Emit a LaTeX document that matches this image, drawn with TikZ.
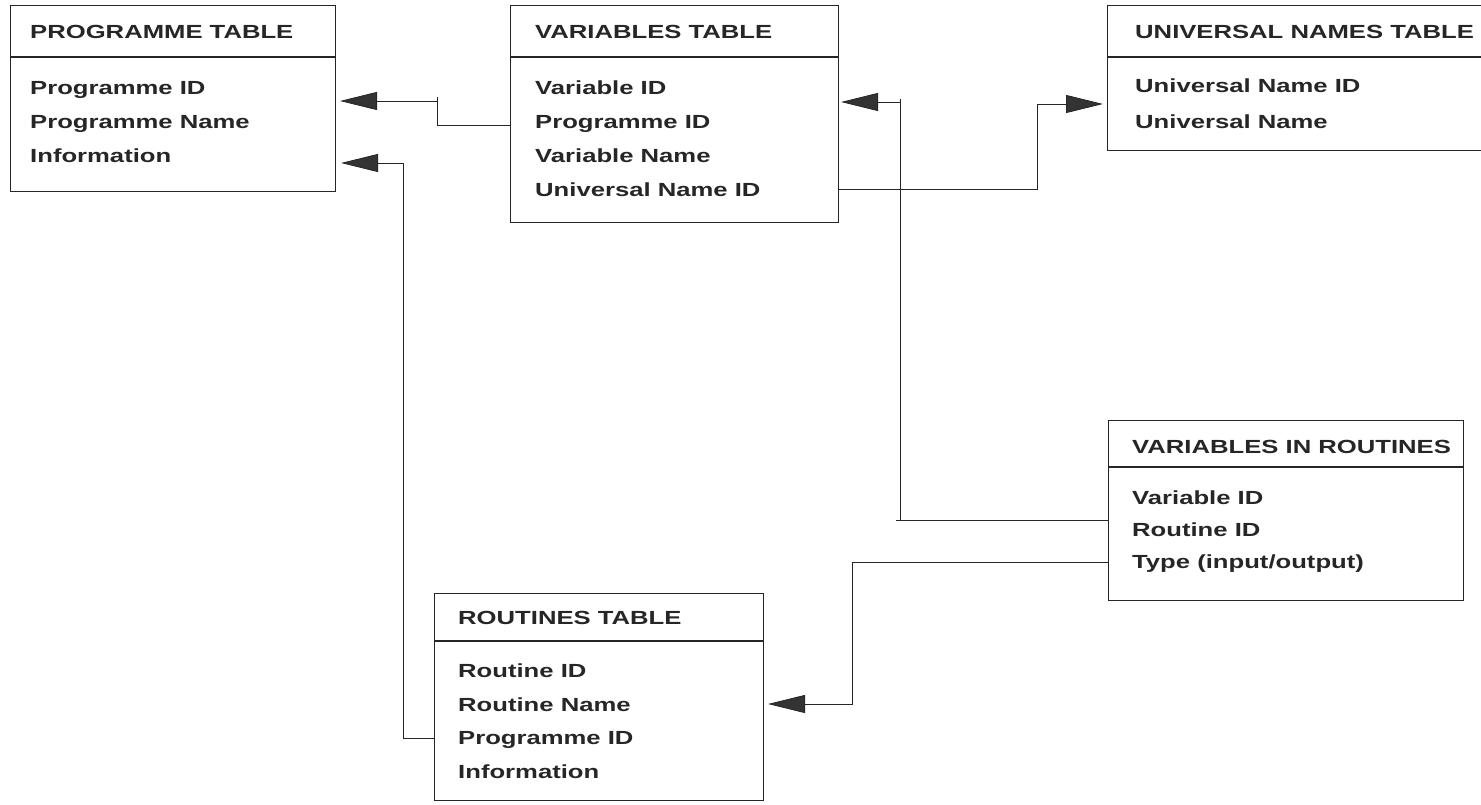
\documentclass[tikz,border=0pt]{standalone}
\usepackage{fontspec}
\usepackage{graphicx}
\setmainfont{Liberation Sans}
\usetikzlibrary{arrows.meta}
\newcommand{\widetext}[1]{\scalebox{1.35}[1]{#1}}
\begin{document}
\begin{tikzpicture}[x=1pt,y=-1pt,
  tablebox/.style={draw=black!85, line width=1.1pt, rectangle, inner sep=0pt, anchor=north west},
  divider/.style={draw=black!85, line width=1.1pt},
  rowtext/.style={anchor=base west, inner sep=0pt, text=black!85,
    font=\bfseries\fontsize{19}{19}\selectfont},
  link/.style={draw=black!85, line width=0.8pt},
  fk/.style={link, -{Triangle[length=37pt,width=18pt,fill=black!80]}}]
\useasboundingbox (0,0) rectangle (1481,805);
\clip (0,0) rectangle (1481,805);

% ---- Programme table
\node[tablebox, minimum width=325pt, minimum height=186pt] (prog) at (10,5) {};
\draw[divider] (10,57) -- (335,57);
\node[rowtext] (progH) at (30,38.5) {\widetext{PROGRAMME TABLE}};
\node[rowtext] (progA) at (30,94.5) {\widetext{Programme ID}};
\node[rowtext] (progB) at (30,128.5) {\widetext{Programme Name}};
\node[rowtext] (progC) at (30,163) {\widetext{Information}};

% ---- Variables table
\node[tablebox, minimum width=328pt, minimum height=217pt] (vars) at (510,5) {};
\draw[divider] (510,57) -- (838,57);
\node[rowtext] (varsH) at (535,38.5) {\widetext{VARIABLES TABLE}};
\node[rowtext] (varsA) at (535,94.5) {\widetext{Variable ID}};
\node[rowtext] (varsB) at (535,128.5) {\widetext{Programme ID}};
\node[rowtext] (varsC) at (535,162.5) {\widetext{Variable Name}};
\node[rowtext] (varsD) at (535,196.5) {\widetext{Universal Name ID}};

% ---- Universal names table (runs past the right edge)
\node[tablebox, minimum width=400pt, minimum height=145pt] (univ) at (1107,5) {};
\draw[divider] (1107,57) -- (1507,57);
\node[rowtext] (univH) at (1135,38.5) {\widetext{UNIVERSAL NAMES TABLE}};
\node[rowtext] (univA) at (1135,92.5) {\widetext{Universal Name ID}};
\node[rowtext] (univB) at (1135,128.5) {\widetext{Universal Name}};

% ---- Variables in routines
\node[tablebox, minimum width=355pt, minimum height=180pt] (vir) at (1108,420) {};
\draw[divider] (1108,467) -- (1463,467);
\node[rowtext] (virH) at (1132,453.5) {\widetext{VARIABLES IN ROUTINES}};
\node[rowtext] (virA) at (1132,504) {\widetext{Variable ID}};
\node[rowtext] (virB) at (1132,536) {\widetext{Routine ID}};
\node[rowtext] (virC) at (1132,568) {\widetext{Type (input/output)}};

% ---- Routines table
\node[tablebox, minimum width=329pt, minimum height=207pt] (rout) at (434,593) {};
\draw[divider] (434,641) -- (763,641);
\node[rowtext] (routH) at (458,624.5) {\widetext{ROUTINES TABLE}};
\node[rowtext] (routA) at (458,677) {\widetext{Routine ID}};
\node[rowtext] (routB) at (458,711) {\widetext{Routine Name}};
\node[rowtext] (routC) at (458,744) {\widetext{Programme ID}};
\node[rowtext] (routD) at (458,778) {\widetext{Information}};

% ---- connector end points
\coordinate (tipProgA) at (340,101);
\coordinate (tipProgB) at (341,163);
\coordinate (tipVars)  at (841,102);
\coordinate (tipUniv)  at (1103,104);
\coordinate (tipRout)  at (768,704);
\coordinate (srcVarsB) at (vars.west |- 0,125);
\coordinate (srcVarsD) at (vars.east |- 0,189);
\coordinate (srcRoutC) at (rout.west |- 0,738);
\coordinate (srcVirB)  at (vir.west |- 0,520);
\coordinate (srcVirC)  at (vir.west |- 0,562);

% ---- foreign keys
\draw[fk] (srcVarsB) -| (437,101) -- (tipProgA);
\draw[link] (437,101) -- ++(0,-4);
\draw[fk] (srcRoutC) -| (403,163) -- (tipProgB);
\draw[fk] (srcVirB) -| (900,102) -- (tipVars);
\draw[link] (900,102) -- ++(0,-3);
\draw[link] (900,520) -- ++(-4,0);
\draw[fk] (srcVarsD) -| (1037,104) -- (tipUniv);
\draw[fk] (srcVirC) -| (852,704) -- (tipRout);
\end{tikzpicture}
\end{document}
